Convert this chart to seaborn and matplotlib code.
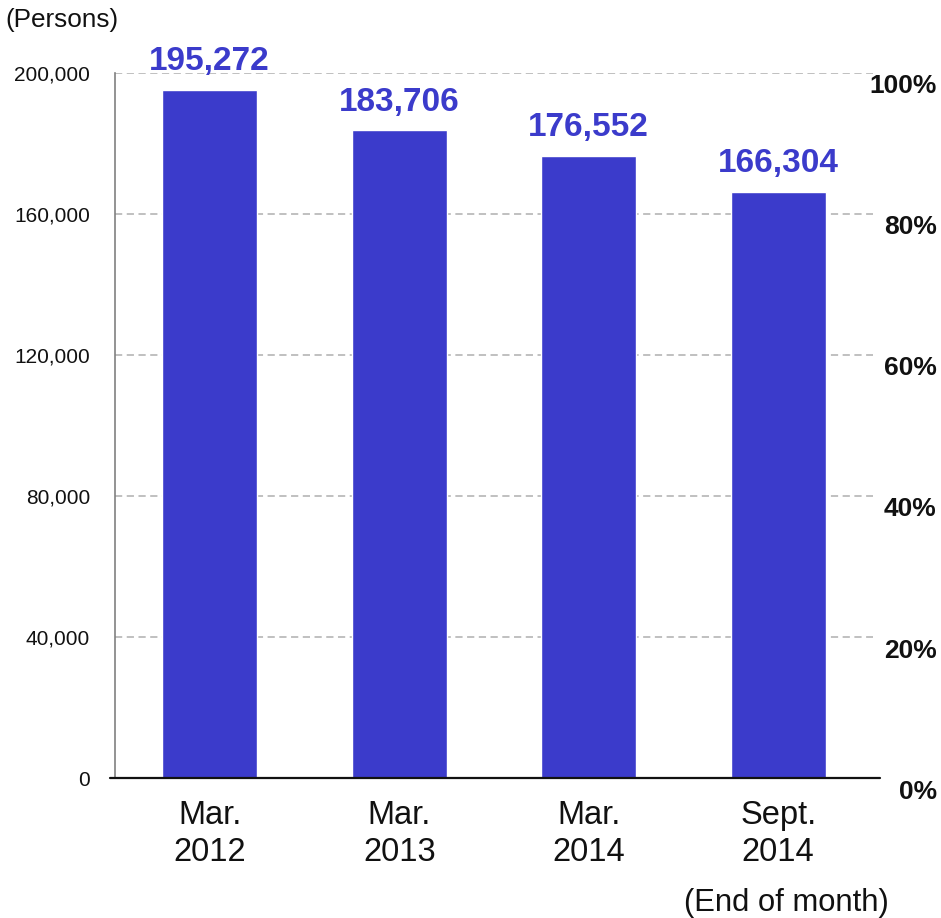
import matplotlib
matplotlib.use("Agg")
import matplotlib.pyplot as plt
import matplotlib.transforms as mtransforms
import seaborn as sns
import pandas as pd

# Registered persons at the end of each month
periods = ["Mar.\n2012", "Mar.\n2013", "Mar.\n2014", "Sept.\n2014"]
persons = [195272, 183706, 176552, 166304]
left_ticks = [0, 40000, 80000, 120000, 160000, 200000]
right_ticks = [0, 20, 40, 60, 80, 100]

bar_color = "#3B3BCB"

sns.set_theme(style="white")
plt.rcParams["font.family"] = ["Liberation Sans", "DejaVu Sans"]

df = pd.DataFrame({"period": periods, "persons": persons})

fig = plt.figure(figsize=(9.41, 9.18), dpi=100)
ax = fig.add_axes([0.1222, 0.1525, 0.8055, 0.768])

sns.barplot(data=df, x="period", y="persons", color=bar_color, width=0.5,
            saturation=1, ax=ax, zorder=3)

ax.set_xlim(-0.5, 3.5)
ax.set_ylim(0, 200000)
ax.set_yticks(left_ticks)
ax.set_yticklabels([f"{v:,}" for v in left_ticks], fontsize=15, color="#111111")
ax.tick_params(axis="y", length=0, pad=18)
ax.tick_params(axis="x", length=0, pad=16, labelsize=23.5, labelcolor="#111111")
for lbl in ax.get_xticklabels():
    lbl.set_linespacing(1.25)
ax.set_xlabel("")
ax.set_ylabel("")

# dashed horizontal grid, solid baseline
for v in left_ticks[1:]:
    ax.axhline(v, color="#BBBBBB", lw=1.3, ls=(0, (4, 2.5)), zorder=1)
ax.axhline(0, xmin=-0.006, xmax=1.009, color="#111111", lw=1.6, zorder=4,
           clip_on=False)

for side in ["top", "right", "bottom"]:
    ax.spines[side].set_visible(False)
ax.spines["left"].set_color("#808080")
ax.spines["left"].set_linewidth(1.2)

# value labels above bars
for i, v in enumerate(persons):
    ax.annotate(f"{v:,}", xy=(i, v), xytext=(0, 9), textcoords="offset points",
                ha="center", va="bottom", fontsize=24, fontweight="bold",
                color=bar_color)

# right-hand percentage axis, labels right-aligned near the figure edge
ax2 = ax.twinx()
ax2.set_ylim(0, 100)
ax2.set_yticks(right_ticks)
ax2.set_yticklabels([f"{v}%" for v in right_ticks], fontsize=19,
                    fontweight="bold", color="#111111")
ax2.tick_params(axis="y", length=0, pad=46)
offset = mtransforms.ScaledTranslation(0, -11 / 100, fig.dpi_scale_trans)
for lbl in ax2.get_yticklabels():
    lbl.set_horizontalalignment("right")
    lbl.set_transform(lbl.get_transform() + offset)
for side in ["top", "right", "bottom", "left"]:
    ax2.spines[side].set_visible(False)

fig.text(5 / 941, 1 - 20 / 918, "(Persons)", fontsize=18.8, ha="left",
         va="center", color="#111111")
fig.text(786 / 941, 1 - 903 / 918, "(End of month)", fontsize=22.3,
         ha="center", va="center", color="#111111")

fig.savefig("out.png", dpi=100, facecolor="white")
